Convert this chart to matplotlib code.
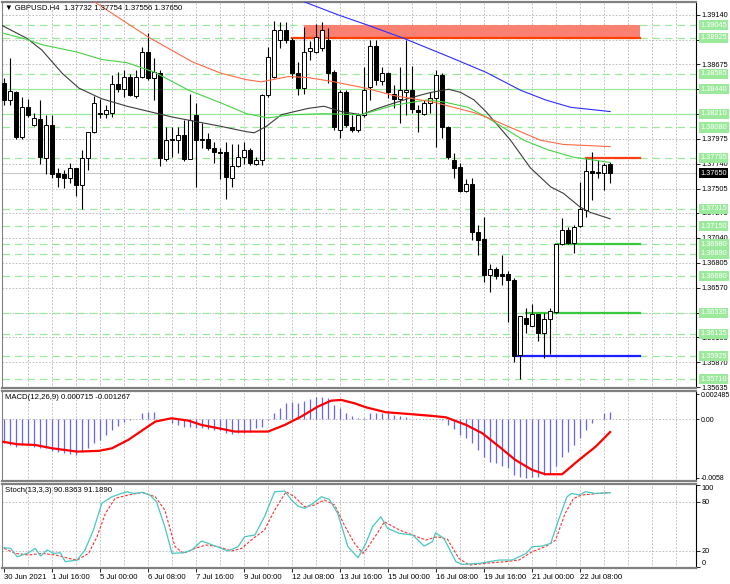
import matplotlib
matplotlib.use('Agg')
import matplotlib.pyplot as plt
import matplotlib.transforms as mtransforms
import numpy as np

plt.rcParams['font.family'] = ['Liberation Sans', 'DejaVu Sans']

# ---------------- data ----------------
opens = [1.3850,1.3834,1.3841,1.3799,1.3827,1.3810,1.3816,1.3779,1.3810,1.3765,
         1.3764,1.3760,1.3770,1.3754,1.3779,1.3804,1.3822,1.3821,1.3822,1.3849,
         1.3844,1.3856,1.3838,1.3856,1.3879,1.3855,1.3859,1.3778,1.3796,1.3796,
         1.3801,1.3778,1.3820,1.3796,1.3797,1.3789,1.3785,1.3785,1.3760,1.3772,
         1.3780,1.3787,1.3774,1.3777,1.3839,1.3856,1.3890,1.3900,1.3890,1.3859,
         1.3845,1.3880,1.3879,1.3883,1.3890,1.3860,1.3806,1.3841,1.3808,1.3806,
         1.3820,1.3846,1.3885,1.3852,1.3859,1.3840,1.3835,1.3841,1.3843,1.3824,
         1.3821,1.3831,1.3836,1.3857,1.3808,1.3777,1.3771,1.3748,1.3755,1.3710,
         1.3703,1.3669,1.3675,1.3670,1.3670,1.3664,1.3594,1.3629,1.3621,1.3632,
         1.3614,1.3628,1.3634,1.3698,1.3711,1.3699,1.3715,1.3730,1.3767,1.3766,
         1.3765,1.37732]
highs = [1.3855,1.3873,1.3842,1.3837,1.3835,1.3822,1.3834,1.3820,1.3820,1.3770,
         1.3768,1.3775,1.3770,1.3787,1.3804,1.3838,1.3835,1.3829,1.3857,1.3860,
         1.3862,1.3858,1.3862,1.3884,1.3897,1.3873,1.3862,1.3808,1.3808,1.3808,
         1.3815,1.3840,1.3831,1.3812,1.3803,1.3794,1.3789,1.3794,1.3792,1.3792,
         1.3794,1.3789,1.3780,1.3840,1.3884,1.3908,1.3907,1.3907,1.3892,1.3870,
         1.3903,1.3889,1.3905,1.3907,1.3902,1.3862,1.3843,1.3843,1.3820,1.3822,
         1.3865,1.3890,1.3890,1.3865,1.3860,1.3848,1.3865,1.3890,1.3866,1.3829,
         1.3834,1.3841,1.3862,1.3859,1.3809,1.3784,1.3775,1.3759,1.3760,1.3716,
         1.3724,1.3679,1.3677,1.3688,1.3673,1.3666,1.3630,1.3638,1.3642,1.3632,
         1.3633,1.3638,1.3698,1.3723,1.3714,1.3716,1.3757,1.3779,1.3785,1.3777,
         1.3775,1.37754]
lows = [1.3829,1.3829,1.3797,1.3797,1.3818,1.3809,1.3774,1.3764,1.3760,1.3752,
        1.3751,1.3756,1.3743,1.3731,1.3768,1.3803,1.3817,1.3817,1.3818,1.3841,
        1.3837,1.3838,1.3836,1.3855,1.3853,1.3834,1.3772,1.3776,1.3780,1.3784,
        1.3776,1.3778,1.3752,1.3789,1.3787,1.3775,1.3759,1.3741,1.3752,1.3771,
        1.3774,1.3773,1.3773,1.3773,1.3837,1.3855,1.3883,1.3888,1.3855,1.3839,
        1.3840,1.3872,1.3878,1.3880,1.3850,1.3806,1.3798,1.3808,1.3804,1.3804,
        1.3818,1.3834,1.3848,1.3848,1.3836,1.3826,1.3812,1.3820,1.3822,1.3804,
        1.3820,1.3822,1.3790,1.3798,1.3778,1.3760,1.3747,1.3747,1.3702,1.3688,
        1.3662,1.3653,1.3665,1.3660,1.3625,1.3587,1.3571,1.3614,1.3621,1.3607,
        1.3591,1.3595,1.3633,1.3697,1.3698,1.3690,1.3714,1.3724,1.3740,1.3760,
        1.3749,1.37556]
closes = [1.3834,1.3842,1.3799,1.3827,1.3820,1.3817,1.3780,1.3810,1.3764,1.3761,
          1.3760,1.3770,1.3754,1.3779,1.3804,1.3831,1.3821,1.3824,1.3849,1.3844,
          1.3856,1.3839,1.3856,1.3879,1.3855,1.3860,1.3779,1.3796,1.3797,1.3801,
          1.3778,1.3815,1.3796,1.3797,1.3789,1.3785,1.3784,1.3761,1.3772,1.3780,
          1.3787,1.3775,1.3777,1.3839,1.3874,1.3900,1.3900,1.3890,1.3859,1.3845,
          1.3879,1.3883,1.3893,1.3900,1.3859,1.3808,1.3841,1.3810,1.3806,1.3820,
          1.3843,1.3885,1.3853,1.3859,1.3841,1.3835,1.3843,1.3843,1.3825,1.3823,
          1.3831,1.3836,1.3857,1.3808,1.3780,1.3770,1.3748,1.3755,1.3710,1.3702,
          1.3669,1.3675,1.3668,1.3668,1.3664,1.3593,1.3630,1.3623,1.3632,1.3614,
          1.3628,1.3635,1.3698,1.3711,1.3699,1.3714,1.3731,1.3767,1.3765,1.3765,
          1.3773,1.37650]

# moving averages (bar position, price)
ma_black_x = [-0.3,3.8,6.3,9.7,12.5,16.3,20.5,27.9,36.2,40.4,41.7,43.7,46.2,50.7,53.3,56.2,
              59.5,62.3,65,67.8,71.1,74.1,76.1,78.3,80.3,84.4,87.7,91.1,93.2,96,97.7,101]
ma_black_y = [1.3904,1.3892,1.3881,1.3859,1.3845,1.3835,1.3828,1.3818,1.3809,1.3804,1.3803,
              1.3809,1.3820,1.3826,1.3828,1.3823,1.3820,1.3826,1.3831,1.3836,1.3841,1.3844,
              1.3841,1.3834,1.3823,1.3796,1.3770,1.3752,1.3746,1.3733,1.3728,1.3722]
ma_green_x = [-0.3,3.8,6.3,12.2,16.3,20.5,25.1,30.8,36.2,40.4,44,47.9,53.3,59.5,65,70.6,73.3,
              77.3,80.3,86.6,90.6,94.9,101]
ma_green_y = [1.3897,1.3891,1.3886,1.3879,1.3872,1.3869,1.3860,1.3843,1.3831,1.3821,1.3817,
              1.3820,1.3821,1.3820,1.3829,1.3834,1.3832,1.3827,1.3818,1.3796,1.3787,1.3780,1.3775]
ma_orange_x = [13.8,24.1,31.3,36.2,40.4,42.9,47.4,50.7,55,60.3,65,71.5,78.3,80.3,84.4,89.4,93.2,101]
ma_orange_y = [1.3931,1.3893,1.3870,1.3859,1.3853,1.3851,1.3856,1.3855,1.3851,1.3845,1.3838,
               1.3832,1.3822,1.3818,1.3808,1.3796,1.3792,1.3790]
ma_blue_x = [47.9,55.7,60.3,66.6,74.4,80.3,86.1,90.2,94.4,101]
ma_blue_y = [1.3931,1.3914,1.3905,1.3892,1.3874,1.3860,1.3843,1.3834,1.3827,1.3823]

# horizontal levels
dash_levels = [1.39045,1.38925,1.38585,1.38440,1.38210,1.38080,1.37795,1.37315,1.37150,
               1.36980,1.36890,1.36680,1.36335,1.36135,1.35925,1.35710]
solid_light_levels = [1.38440, 1.38210]
price_ticks = [1.39140,1.38905,1.38675,1.38440,1.38210,1.37975,1.37740,1.37505,1.37275,
               1.37040,1.36805,1.36570,1.36335,1.36105,1.35870,1.35635]
hidden_ticks = [1.38905, 1.38440, 1.38210, 1.36335]
current_price = 1.37650
zone_low, zone_high, zone_start = 1.38925, 1.39045, 50
zone_line_start = 48
seg_levels = [1.37795, 1.36980, 1.36335, 1.35925]
seg_starts = [97, 92, 87, 85]
seg_colors = ['#ff3c14', '#3cc83c', '#3cc83c', '#1e1eff']
obj_end = 106

# MACD
macd_hist = [-0.00232,-0.00255,-0.00271,-0.00255,-0.00255,-0.00271,-0.00288,-0.00288,-0.00311,-0.00321,
             -0.00338,-0.00344,-0.00354,-0.00321,-0.00288,-0.00238,-0.00205,-0.00156,-0.00106,-0.00066,
             -0.00023,-0.00007,0.00002,0.00060,0.00070,0.00076,0.00000,-0.00001,-0.00040,-0.00056,
             -0.00073,-0.00073,-0.00089,-0.00089,-0.00099,-0.00106,-0.00106,-0.00132,-0.00146,-0.00139,
             -0.00132,-0.00122,-0.00089,-0.00073,-0.00007,0.00060,0.00109,0.00166,0.00175,0.00166,
             0.00185,0.00199,0.00225,0.00218,0.00209,0.00142,0.00109,0.00066,0.00033,0.00010,
             0.00010,0.00060,0.00060,0.00066,0.00060,0.00043,0.00033,0.00026,0.00007,0.00003,
             0.00003,0.00003,0.00007,-0.00007,-0.00056,-0.00099,-0.00156,-0.00189,-0.00238,-0.00305,
             -0.00371,-0.00420,-0.00437,-0.00463,-0.00487,-0.00553,-0.00576,-0.00579,-0.00576,-0.00569,
             -0.00553,-0.00543,-0.00463,-0.00377,-0.00321,-0.00255,-0.00189,-0.00106,-0.00040,0.00000,
             0.00060,0.000715]
macd_sig_x = [-0.3,2.2,5.2,8,12.2,15.8,18,20.7,25.2,27.9,30.7,32.9,35.7,38.5,41.8,44,46.8,49.5,
              52.3,54.5,56.2,58.4,60.3,63.6,68,71.4,73.6,77,79.7,82.5,85.2,88,90.2,93,95.8,98.6,101]
macd_sig_y = [-0.00222,-0.00248,-0.00255,-0.00288,-0.00321,-0.00314,-0.00288,-0.00205,-0.00023,
              0.00010,-0.00013,-0.00056,-0.00089,-0.00122,-0.00122,-0.00122,-0.00056,0.00026,
              0.00126,0.00185,0.00192,0.00159,0.00119,0.00070,0.00050,0.00033,0.00020,-0.00056,
              -0.00139,-0.00271,-0.00404,-0.00503,-0.00546,-0.00546,-0.00404,-0.00271,-0.001267]

# Stochastic
st_main_x = [0,1.1,2.2,4.1,5.2,6.1,7.2,8.3,9.4,10.2,12.2,13.5,14.9,16.3,18,19.6,20.5,21.6,23,24.3,
             25.4,26.8,28,29.9,31.3,32.9,34,36.2,37.3,39,40.1,41.8,43.4,45.1,46.8,47.9,49,50.1,51.5,52.9,
             54.2,55.6,57.3,59,60.3,61.4,62.8,63.9,65.9,68.1,70,71.4,71.9,73.3,75.3,76.4,79.2,82.5,84.7,87,
             88,89.7,91.1,92.4,93.8,94.6,95.8,96.9,98.5,101]
st_main_y = [24,23.2,13,17.9,23.2,13.9,21.2,17.1,17.9,7,9,21.2,45.5,78,86,90.1,92.1,90.1,91.3,88.1,
             80,49.5,17.1,17.9,21.2,32.1,29.3,23.2,20,25.2,37.4,39.4,61.7,92.1,92.9,82,74.7,71.9,78,86,
             82.8,65.8,25.2,11.8,29.3,49.5,61.7,47.5,41.4,39.4,26,31.3,42.2,35.4,7,3.7,5,9,9,17.1,
             25.2,26,29.3,57.7,86,90.1,88.1,92.1,90.1,90.8363]
st_sig_x = [0,1.9,4.1,6.3,8.6,10.8,12.2,14.1,15.5,16.9,18.5,20.7,23,25.2,26.8,28.5,29.9,31.8,33.7,35.7,
            37.9,39.6,41.2,43.4,45.1,47,48.4,50.1,51.7,53.4,55.1,56.7,58.4,59.8,60.3,62,63.4,65.9,68.1,70.3,
            72.2,73.9,75.8,77.5,80.3,83.6,85.8,88,90.2,91.9,93.5,94.9,96.3,99.1,101]
st_sig_y = [23.2,17.1,15.1,17.1,15.1,11,9,17.1,37.4,65.8,84,88.1,91.3,86,69.8,25.2,17.1,23.2,27.3,25.2,
            20,23.2,33.3,45.5,69.8,92.1,86,73.8,75.9,82,75.9,51.6,29.3,17.1,21.2,39.4,55.6,45.5,39.4,33.3,
            37.4,34.2,11,2.9,5,7,9,19.1,25.2,33.3,65.8,84,88.1,90.1,91.189]

xtick_bars = [0, 8, 16, 24, 32, 40, 48, 56, 64, 72, 80, 88, 96]
xtick_labels = ['30 Jun 2021', '1 Jul 16:00', '5 Jul 00:00', '6 Jul 08:00', '7 Jul 16:00',
                '9 Jul 00:00', '12 Jul 08:00', '13 Jul 16:00', '15 Jul 00:00', '16 Jul 08:00',
                '19 Jul 16:00', '21 Jul 00:00', '22 Jul 08:00']

title_main = '\u25bc GBPUSD.H4  1.37732 1.37754 1.37556 1.37650'
title_macd = 'MACD(12,26,9) 0.000715 -0.001267'
title_stoch = 'Stoch(13,3,3) 90.8363 91.1890'

# ---------------- figure ----------------
FS = 5.6
YFS = 5.3
fig = plt.figure(figsize=(7.3, 5.84), dpi=100)
L, W = 0.003, 0.9504
ax1 = fig.add_axes([L, 0.3356, W, 0.6610])
ax2 = fig.add_axes([L, 0.1764, W, 0.1541], sharex=ax1)
ax3 = fig.add_axes([L, 0.0274, W, 0.1438], sharex=ax1)

xmin, xmax = -0.3, 115.3
grid_kw = dict(color='#b4b4b4', lw=0.6, ls=(0, (2, 2)), zorder=0)

for ax in (ax1, ax2, ax3):
    ax.set_xlim(xmin, xmax)
    for k in range(4, 116, 4):
        ax.axvline(k, **grid_kw)
    for s in ax.spines.values():
        s.set_color('#808080')
        s.set_linewidth(0.8)
    ax.spines['right'].set_color('black')
    ax.spines['bottom'].set_linewidth(1.6)
    ax.spines['top'].set_linewidth(1.6)
    ax.yaxis.tick_right()
    ax.tick_params(axis='y', labelsize=YFS, length=3, width=0.6, pad=1.2, colors='black')
    ax.tick_params(axis='x', length=3, width=0.6)

# ---- main price panel ----
ax1.set_ylim(1.35626, 1.39262)
for p in price_ticks:
    ax1.axhline(p, **grid_kw)
ax1.set_yticks(price_ticks)
ax1.set_yticklabels(['' if p in hidden_ticks else f'{p:.5f}' for p in price_ticks])

for lv in dash_levels:
    if lv in solid_light_levels:
        ax1.axhline(lv, color='#9be99b', lw=0.9, zorder=1)
    else:
        ax1.axhline(lv, color='#9be99b', lw=0.9, ls=(0, (6, 4)), zorder=1)

ax1.axhline(current_price, color='#c8c8c8', lw=0.8, zorder=1)

ax1.fill_between([zone_start, obj_end], zone_low, zone_high, color='#fa8072', lw=0, zorder=1.5)
ax1.plot([zone_line_start, obj_end], [zone_low, zone_low], color='#ff4000', lw=1.6, zorder=1.6)
for lv, st, col in zip(seg_levels, seg_starts, seg_colors):
    ax1.plot([st, obj_end], [lv, lv], color=col, lw=1.6, zorder=1.6)

x = np.arange(len(opens))
o = np.array(opens); c = np.array(closes)
ax1.vlines(x, lows, highs, color='black', lw=0.8, zorder=3)
bull = c >= o
ax1.bar(x, np.abs(c - o), bottom=np.minimum(o, c), width=0.62,
        color=np.where(bull, 'white', 'black'), edgecolor='black', linewidth=0.7, zorder=4)

ax1.plot(ma_black_x, ma_black_y, color='#3c3c3c', lw=0.8, zorder=5)
ax1.plot(ma_green_x, ma_green_y, color='#46d246', lw=0.8, zorder=5)
ax1.plot(ma_orange_x, ma_orange_y, color='#ff6a46', lw=0.8, zorder=5)
ax1.plot(ma_blue_x, ma_blue_y, color='#2d2dff', lw=0.8, zorder=5)

trans = mtransforms.blended_transform_factory(ax1.transAxes, ax1.transData)
for lv in dash_levels:
    ax1.text(1.006, lv, f'{lv:.5f}', transform=trans, ha='left', va='center', fontsize=YFS,
             color='white', clip_on=False, zorder=20,
             bbox=dict(boxstyle='square,pad=0.22', fc='#9be99b', ec='none'))
ax1.text(1.006, current_price, f'{current_price:.5f}', transform=trans, ha='left', va='center',
         fontsize=YFS, color='white', clip_on=False, zorder=21,
         bbox=dict(boxstyle='square,pad=0.22', fc='black', ec='none'))

ax1.text(0.004, 0.993, title_main, transform=ax1.transAxes, ha='left', va='top', fontsize=FS,
         color='black', zorder=30)

# ---- MACD panel ----
ax2.set_ylim(-0.00613, 0.00281)
ax2.axhline(0, **grid_kw)
ax2.vlines(x, 0, macd_hist, color='#6464ff', lw=0.9, zorder=3)
ax2.plot(macd_sig_x, macd_sig_y, color='#ff0000', lw=1.6, zorder=4)
ax2.set_yticks([0.002485, 0.0, -0.0058])
ax2.set_yticklabels(['0.002485', '0.00', '-0.0058'])
ax2.tick_params(axis='y', labelsize=5.0, length=2.5, pad=1.0)
ax2.text(0.004, 0.97, title_macd, transform=ax2.transAxes, ha='left', va='top', fontsize=FS)

# ---- Stochastic panel ----
ax3.set_ylim(-0.7, 101.5)
ax3.axhline(80, **grid_kw)
ax3.axhline(20, **grid_kw)
ax3.plot(st_main_x, st_main_y, color='#48c8c0', lw=0.9, zorder=4)
ax3.plot(st_sig_x, st_sig_y, color='#ff3030', lw=0.8, ls=(0, (2.5, 1.5)), zorder=3)
ax3.set_yticks([100, 80, 20, 0])
ax3.set_yticklabels(['100', '80', '20', '0'])
labs = ax3.get_yticklabels()
labs[0].set_va('top')
labs[3].set_va('bottom')
ax3.text(0.004, 0.965, title_stoch, transform=ax3.transAxes, ha='left', va='top', fontsize=FS)

plt.setp(ax1.get_xticklabels(), visible=False)
plt.setp(ax2.get_xticklabels(), visible=False)
ax1.tick_params(axis='x', length=0)
ax2.tick_params(axis='x', length=0)
ax3.set_xticks(xtick_bars)
ax3.set_xticklabels(xtick_labels)
for lab in ax3.get_xticklabels():
    lab.set_ha('left')
    lab.set_fontsize(FS)
ax3.tick_params(axis='x', pad=1.5)

fig.savefig('out.png', dpi=100, facecolor='white')
